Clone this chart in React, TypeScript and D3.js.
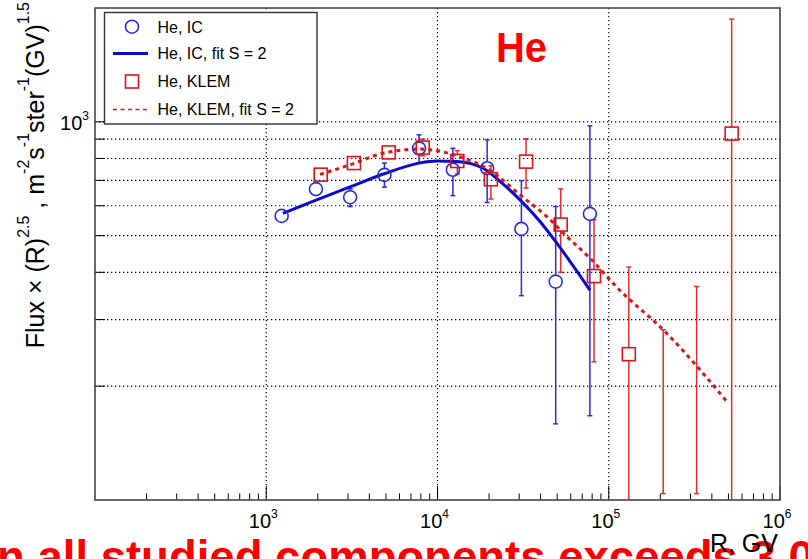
import React from "react";
import * as d3 from "d3";

// ---- data ----
const icR = [1230, 1950, 3090, 4900, 7800, 12300, 19500, 30900, 49000, 77600];
const icFlux = [564, 664, 632, 724, 851, 747, 754, 521, 378, 571];
const icLow = [560, 660, 597, 672, 778, 638, 612, 347, 159, 167];
const icHigh = [568, 668, 665, 778, 924, 851, 896, 699, 597, 976];

const klemR = [2080, 3250, 5190, 8200, 13050, 20500, 32900, 52400, 82000, 131000, 208000, 326000, 522000];
const klemFlux: (number | null)[] = [725, 778, 830, 855, 788, 705, 785, 535, 391, 243, null, null, 931];
const klemLow = [720, 773, 825, 813, 727, 625, 668, 400, 232, 60, 104, 104, 50];
const klemHigh = [730, 783, 835, 900, 839, 765, 902, 665, 551, 413, 282, 367, 1869];

const icFitR = [1252, 1970, 3083, 4890, 7903, 9932, 13000, 18440, 23170, 30330, 39680, 48990, 77710];
const icFitFlux = [573, 622, 673, 729, 779, 788, 785, 754, 696, 622, 545, 482, 359];

const klemFitR = [2060, 3083, 4826, 7903, 10340, 13530, 18520, 23170, 30330, 43420, 56840, 77710, 113700, 218000, 341200, 497000];
const klemFitFlux = [726, 770, 826, 847, 836, 808, 762, 711, 641, 562, 498, 436, 362, 276, 221, 180.5];

const xDecades = [1e3, 1e4, 1e5, 1e6];
const xDecadeExp = ["3", "4", "5", "6"];
const xGridValues = [1e3, 1e4, 1e5];
const yGridValues = [200, 300, 400, 500, 600, 700, 800, 900, 1000];
const yLabelValue = 1000;
const yLabelExp = "3";

const legendLabels = ["He, IC", "He, IC, fit S = 2", "He, KLEM", "He, KLEM, fit S = 2"];

const W = 808;
const H = 559;
const L = 95, R = 780, T = 8, B = 500;

const BLUE = "#2a2ade";
const BLUE_LINE = "#0b0bd0";
const RED = "#dd1414";
const RED_ERR = "#e02c2c";

export default function App() {
  const x = d3.scaleLog().domain([100, 1e6]).range([L, R]);
  const y = d3.scaleLog().domain([100, 2000]).range([B, T]);

  const xMinor: number[] = [];
  for (let k = 2; k <= 5; k++) for (let m = 2; m <= 9; m++) xMinor.push(m * Math.pow(10, k));

  const line = d3
    .line<[number, number]>()
    .x((d) => x(d[0]))
    .y((d) => y(d[1]))
    .curve(d3.curveMonotoneX);

  const icFitPath = line(icFitR.map((r, i) => [r, icFitFlux[i]] as [number, number])) || "";
  const klemFitPath = line(klemFitR.map((r, i) => [r, klemFitFlux[i]] as [number, number])) || "";

  const ms = 6.5; // marker half size
  const cap = 2.5;

  const errBars = (
    rs: number[],
    vals: (number | null)[],
    lows: number[],
    highs: number[],
    color: string,
    key: string
  ) => {
    const out: React.ReactNode[] = [];
    rs.forEach((r, i) => {
      const px = x(r);
      const v = vals[i];
      const yh = y(Math.min(highs[i], 2000));
      const yl = y(Math.max(lows[i], 100));
      const hiIn = highs[i] <= 2000;
      const loIn = lows[i] >= 100;
      if (v === null) {
        out.push(<line key={`${key}s${i}`} x1={px} x2={px} y1={yl} y2={yh} stroke={color} strokeWidth={1.5} />);
      } else {
        const yv = y(v);
        if (yh < yv - ms) out.push(<line key={`${key}u${i}`} x1={px} x2={px} y1={yv - ms} y2={yh} stroke={color} strokeWidth={1.5} />);
        if (yl > yv + ms) out.push(<line key={`${key}d${i}`} x1={px} x2={px} y1={yv + ms} y2={yl} stroke={color} strokeWidth={1.5} />);
        if (!(yh < yv - ms) && !(yl > yv + ms)) return;
      }
      if (hiIn) out.push(<line key={`${key}ch${i}`} x1={px - cap} x2={px + cap} y1={yh} y2={yh} stroke={color} strokeWidth={1.5} />);
      if (loIn) out.push(<line key={`${key}cl${i}`} x1={px - cap} x2={px + cap} y1={yl} y2={yl} stroke={color} strokeWidth={1.5} />);
    });
    return out;
  };

  const font = "'Liberation Sans', Arial, Helvetica, sans-serif";
  const legY = [26.7, 53.5, 81.5, 109.5];

  return (
    <svg
      width={W}
      height={H}
      viewBox={`0 0 ${W} ${H}`}
      style={{ position: "absolute", left: 0, top: 0, background: "#fff" }}
      fontFamily={font}
    >
      <defs>
        <clipPath id="frame">
          <rect x={L} y={T} width={R - L} height={B - T} />
        </clipPath>
      </defs>
      <rect x={0} y={0} width={W} height={H} fill="#fff" />

      {/* grid */}
      <g stroke="#000" strokeWidth={1.2} strokeDasharray="1.3 2.7">
        {xGridValues.map((v) => (
          <line key={`gx${v}`} x1={x(v)} x2={x(v)} y1={T} y2={B} />
        ))}
        {yGridValues.map((v) => (
          <line key={`gy${v}`} x1={L} x2={R} y1={y(v)} y2={y(v)} />
        ))}
      </g>

      {/* ticks */}
      <g stroke="#000" strokeWidth={1}>
        {xDecades.map((v) => (
          <line key={`tx${v}`} x1={x(v)} x2={x(v)} y1={B} y2={B - 14} />
        ))}
        {xMinor.map((v) => (
          <line key={`tm${v}`} x1={x(v)} x2={x(v)} y1={B} y2={B - 6.5} />
        ))}
        {yGridValues.map((v) => (
          <line key={`ty${v}`} x1={L} x2={L + (v === yLabelValue ? 20 : 10)} y1={y(v)} y2={y(v)} />
        ))}
      </g>

      {/* data */}
      <g clipPath="url(#frame)">
        {errBars(icR, icFlux, icLow, icHigh, BLUE, "ic")}
        {errBars(klemR, klemFlux, klemLow, klemHigh, RED_ERR, "kl")}
        <path d={icFitPath} fill="none" stroke={BLUE_LINE} strokeWidth={3} />
        <path d={klemFitPath} fill="none" stroke={RED} strokeWidth={3} strokeDasharray="4 4" />
        {icR.map((r, i) => (
          <circle key={`c${i}`} cx={x(r)} cy={y(icFlux[i])} r={ms} fill="none" stroke={BLUE} strokeWidth={1.6} />
        ))}
        {klemR.map((r, i) => {
          const v = klemFlux[i];
          if (v === null) return null;
          return (
            <rect
              key={`s${i}`}
              x={x(r) - ms}
              y={y(v) - ms}
              width={2 * ms}
              height={2 * ms}
              fill="none"
              stroke={RED}
              strokeWidth={1.6}
            />
          );
        })}
      </g>

      {/* frame */}
      <rect x={L} y={T} width={R - L} height={B - T} fill="none" stroke="#444" strokeWidth={1.6} />

      {/* x tick labels */}
      <g fontSize={20} fill="#000">
        {xDecades.map((v, i) => (
          <text key={`lx${v}`} x={x(v) - 3} y={528} textAnchor="middle">
            10
            <tspan fontSize={12} dy={-10}>
              {xDecadeExp[i]}
            </tspan>
          </text>
        ))}
      </g>
      {/* y tick label */}
      <text x={89} y={y(yLabelValue) + 8} textAnchor="end" fontSize={20} fill="#000">
        10
        <tspan fontSize={12} dy={-10}>
          {yLabelExp}
        </tspan>
      </text>

      {/* annotation cut by the bottom edge (drawn before the axis title) */}
      <text x={-3} y={573} fontSize={45.5} fontWeight="bold" fill="#ff0000">
        n all studied components exceeds 3.0
      </text>

      {/* axis titles */}
      <text x={778} y={552} textAnchor="end" fontSize={25} fill="#000">
        R, GV
      </text>
      <text transform="translate(43.5,2) rotate(-90)" textAnchor="end" fontSize={25} fill="#000">
        Flux × (R)
        <tspan fontSize={16} dy={-15}>2.5</tspan>
        <tspan dy={15}> , m</tspan>
        <tspan fontSize={16} dy={-15}>-2</tspan>
        <tspan dy={15}>s</tspan>
        <tspan fontSize={16} dy={-15}>-1</tspan>
        <tspan dy={15}>ster</tspan>
        <tspan fontSize={16} dy={-15}>-1</tspan>
        <tspan dy={15}>(GV)</tspan>
        <tspan fontSize={16} dy={-15}>1.5</tspan>
      </text>

      {/* legend */}
      <rect x={104.5} y={12.5} width={212.5} height={111.5} fill="#fff" stroke="#333" strokeWidth={1.4} />
      <circle cx={132} cy={legY[0]} r={ms} fill="none" stroke={BLUE} strokeWidth={1.6} />
      <line x1={113} x2={148} y1={legY[1]} y2={legY[1]} stroke={BLUE_LINE} strokeWidth={3} />
      <rect x={132 - ms} y={legY[2] - ms} width={2 * ms} height={2 * ms} fill="none" stroke={RED} strokeWidth={1.6} />
      <line x1={113} x2={148} y1={legY[3]} y2={legY[3]} stroke={RED} strokeWidth={1.5} strokeDasharray="4 3.5" />
      <g fontSize={16} fill="#000">
        {legendLabels.map((t, i) => (
          <text key={t} x={157.5} y={legY[i] + 5.8}>
            {t}
          </text>
        ))}
      </g>

      {/* panel label */}
      <text x={496} y={61.5} fontSize={42} fontWeight="bold" fill="#ff0000" textLength={51} lengthAdjust="spacingAndGlyphs">
        He
      </text>
    </svg>
  );
}
